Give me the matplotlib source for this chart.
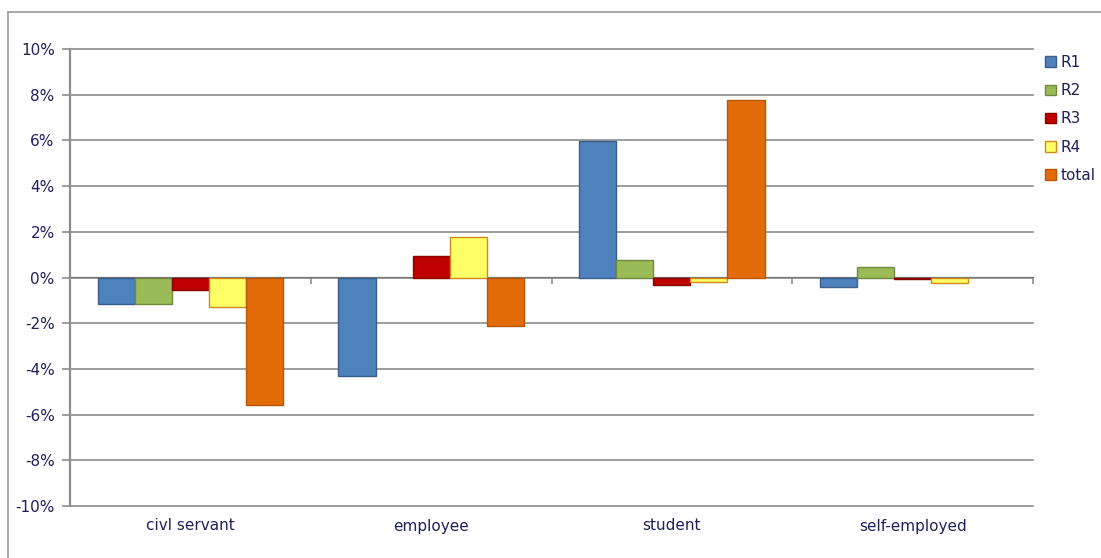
import numpy as np
import matplotlib.pyplot as plt
from matplotlib.lines import Line2D
from matplotlib.ticker import FuncFormatter

categories = ["civl servant", "employee", "student", "self-employed"]
series_names = ["R1", "R2", "R3", "R4", "total"]

r1 = [-1.18, -4.29, 5.97, -0.42]
r2 = [-1.14, 0.0, 0.77, 0.45]
r3 = [-0.53, 0.96, -0.32, -0.08]
r4 = [-1.27, 1.78, -0.20, -0.25]
total = [-5.60, -2.13, 7.78, 0.0]

series = [r1, r2, r3, r4, total]
fills = ["#4F81BD", "#9BBB59", "#C00000", "#FFFF66", "#E36C09"]
edges = ["#385D8A", "#71893F", "#8C0000", "#D08A1C", "#B65708"]

text_color = "#1F1F5C"
grid_color = "#8C8C8C"

plt.rcParams["font.family"] = ["DejaVu Sans"]

fig = plt.figure(figsize=(11.01, 5.58), dpi=100)
ax = fig.add_axes([70 / 1101, 1 - 506 / 558, (1033 - 70) / 1101, (506 - 49) / 558])

# outer chart frame (left and top edges)
fx, fy = 8 / 1101, 1 - 12 / 558
for xs, ys in [([fx, fx], [0, fy]), ([fx, 1.0], [fy, fy])]:
    fig.add_artist(Line2D(xs, ys, transform=fig.transFigure,
                          color="#9A9A9A", linewidth=1.2))

x = np.arange(len(categories))
width = 0.154
offsets = (np.arange(len(series)) - 2) * width
for vals, name, fc, ec, off in zip(series, series_names, fills, edges, offsets):
    lw = [0 if v == 0 else 1.0 for v in vals]
    ax.bar(x + off, vals, width, color=fc, edgecolor=ec, linewidth=lw,
           label=name, zorder=3)

ax.set_xlim(-0.5, len(categories) - 0.5)
ax.set_ylim(-10, 10)
ax.set_yticks(np.arange(-10, 11, 2))
ax.yaxis.set_major_formatter(FuncFormatter(lambda v, p: f"{v:.0f}%"))
ax.yaxis.grid(True, color=grid_color, linewidth=1.2, zorder=0)
ax.set_axisbelow(True)
for gl in ax.get_ygridlines():
    gl.set_clip_on(False)

ax.set_xticks(x)
ax.set_xticklabels(categories)
ax.tick_params(axis="x", length=0, pad=9, colors=text_color, labelsize=11)
ax.tick_params(axis="y", length=6, width=1.2, pad=5, colors=text_color,
               labelsize=11)
ax.tick_params(axis="y", color=grid_color)

for s in ["top", "right", "bottom"]:
    ax.spines[s].set_visible(False)
ax.spines["left"].set_color(grid_color)
ax.spines["left"].set_linewidth(1.6)

# category axis crossing at zero with boundary ticks
zero_axis = ax.secondary_xaxis(0.5)
zero_axis.set_xticks(np.arange(0.5, len(categories), 1.0))
zero_axis.set_xticklabels([])
zero_axis.tick_params(length=5, width=1.2, color=grid_color, direction="in")
zero_axis.spines["bottom"].set_color(grid_color)
zero_axis.spines["bottom"].set_linewidth(1.6)

leg = ax.legend(loc="upper left", bbox_to_anchor=(1.006, 1.0), frameon=False,
                handlelength=0.7, handleheight=0.7, handletextpad=0.3,
                labelspacing=0.86, fontsize=11, borderaxespad=0)
for t in leg.get_texts():
    t.set_color(text_color)

fig.savefig("out.png", dpi=100)
